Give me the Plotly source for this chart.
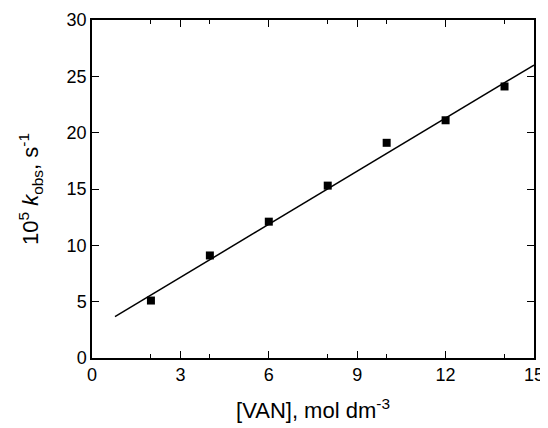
import plotly.graph_objects as go

van = [2, 4, 6, 8, 10, 12, 14]
kobs = [5.1, 9.1, 12.1, 15.3, 19.1, 21.1, 24.1]
fit_x = [0.78, 15]
fit_y = [3.67, 26.0]
x_ticks = [0, 3, 6, 9, 12, 15]
y_ticks = [0, 5, 10, 15, 20, 25, 30]

FONT = "Liberation Sans"

fig = go.Figure()
fig.add_trace(go.Scatter(x=fit_x, y=fit_y, mode="lines",
                         line=dict(color="black", width=1.5), showlegend=False))
fig.add_trace(go.Scatter(x=van, y=kobs, mode="markers",
                         marker=dict(symbol="square", size=8, color="black"), showlegend=False))

axis_common = dict(showline=True, linecolor="black", linewidth=1.5, mirror="ticks",
                   ticks="inside", ticklen=7, tickwidth=1.2, tickcolor="black",
                   showgrid=False, zeroline=False, automargin=False,
                   tickfont=dict(family=FONT, size=18, color="black"),
                   minor=dict(ticks="inside", ticklen=4, tickwidth=1.2, tickcolor="black", nticks=2))

fig.update_xaxes(range=[0, 15], tickvals=x_ticks, **axis_common,
                 title=dict(text="[VAN], mol dm<sup>-3</sup>",
                            font=dict(family=FONT, size=22, color="black"),
                            standoff=18))
fig.update_yaxes(range=[0, 30], tickvals=y_ticks, **axis_common,
                 title=dict(text="10<sup>5</sup> <i>k</i><sub>obs</sub>, s<sup>-1</sup>",
                            font=dict(family=FONT, size=22, color="black"),
                            standoff=22))

fig.update_layout(width=540, height=420, margin=dict(l=84, r=14, t=12, b=70),
                  plot_bgcolor="white", paper_bgcolor="white")
fig.write_html("out.html")
